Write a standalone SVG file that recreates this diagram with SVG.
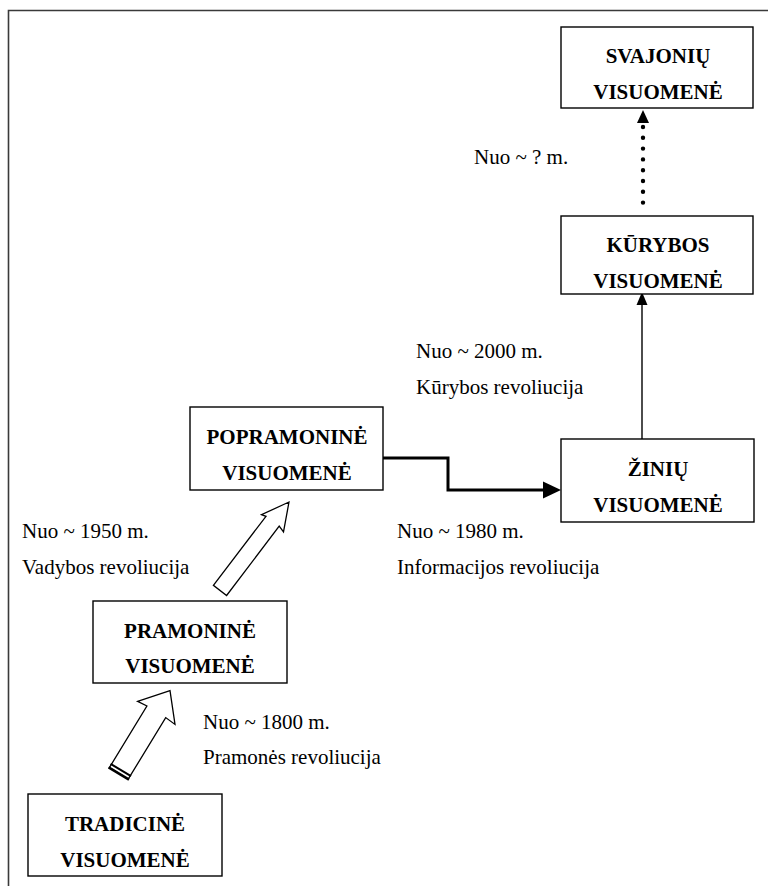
<svg xmlns="http://www.w3.org/2000/svg" width="768" height="886" viewBox="0 0 768 886">
<style>
.box{fill:#fff;stroke:#000;stroke-width:1.4}
.bl{font-family:"Liberation Serif","Times New Roman",serif;font-size:21px;font-weight:bold;text-anchor:middle;fill:#000}
.lb{font-family:"Liberation Serif","Times New Roman",serif;font-size:21px;fill:#000}
.frame{stroke:#3a3a3a;stroke-width:1.6;fill:none}
.blk{fill:#fff;stroke:#000;stroke-width:1.3;stroke-linejoin:miter}
</style>
<path class="frame" d="M8.5,886 V10.5 H768"/>
<g id="connectors">
<path d="M383,458 H448 V490 H545" fill="none" stroke="#000" stroke-width="3"/>
<path d="M543,481.5 L561,490 L543,498.5 Z" fill="#000"/>
<line x1="642" y1="439" x2="642" y2="304" stroke="#000" stroke-width="1.4"/>
<path d="M636.5,305 L642,292 L647.5,305 Z" fill="#000"/>
<line x1="643" y1="127" x2="643" y2="203" stroke="#000" stroke-width="4.4" stroke-linecap="round" stroke-dasharray="0 10.8"/>
<path d="M637,123 L643,110 L649,123 Z" fill="#000"/>
<path class="blk" d="M289,502 L283.5,531.9 L279.2,526.2 L226.6,595.5 L213.4,585.3 L266,516.3 L261.5,514.7 Z"/>
<path class="blk" d="M170,690.7 L175,724.4 L165.7,717.6 L128.2,779.2 L109.4,767.6 L146.9,706 L137.6,701.3 Z"/>
<line x1="108.6" y1="767.3" x2="129" y2="779.7" stroke="#000" stroke-width="2.6"/>
<line x1="110.6" y1="763.8" x2="131" y2="776.2" stroke="#000" stroke-width="2"/>
</g>
<g id="svajoniu">
<rect class="box" x="561" y="27" width="192" height="81"/>
<text class="bl" x="658" y="63">SVAJONIŲ</text>
<text class="bl" x="658" y="99">VISUOMENĖ</text>
</g>
<g id="kurybos">
<rect class="box" x="561" y="216" width="192" height="78"/>
<text class="bl" x="658" y="252">KŪRYBOS</text>
<text class="bl" x="658" y="288">VISUOMENĖ</text>
</g>
<g id="ziniu">
<rect class="box" x="561" y="439" width="193" height="83"/>
<text class="bl" x="658" y="476">ŽINIŲ</text>
<text class="bl" x="658" y="512">VISUOMENĖ</text>
</g>
<g id="popramonine">
<rect class="box" x="190" y="407" width="193" height="83"/>
<text class="bl" x="287" y="444">POPRAMONINĖ</text>
<text class="bl" x="287" y="480">VISUOMENĖ</text>
</g>
<g id="pramonine">
<rect class="box" x="93" y="601" width="194" height="82"/>
<text class="bl" x="190" y="638">PRAMONINĖ</text>
<text class="bl" x="190" y="673">VISUOMENĖ</text>
</g>
<g id="tradicine">
<rect class="box" x="28" y="794" width="194" height="82"/>
<text class="bl" x="125" y="831">TRADICINĖ</text>
<text class="bl" x="125" y="867">VISUOMENĖ</text>
</g>
<g id="labels">
<text class="lb" x="474" y="164">Nuo ~ ? m.</text>
<text class="lb" x="416" y="358">Nuo ~ 2000 m.</text>
<text class="lb" x="416" y="394">Kūrybos revoliucija</text>
<text class="lb" x="397" y="538">Nuo ~ 1980 m.</text>
<text class="lb" x="397" y="574">Informacijos revoliucija</text>
<text class="lb" x="22" y="538">Nuo ~ 1950 m.</text>
<text class="lb" x="22" y="574">Vadybos revoliucija</text>
<text class="lb" x="203" y="729">Nuo ~ 1800 m.</text>
<text class="lb" x="203" y="764">Pramonės revoliucija</text>
</g>
</svg>
